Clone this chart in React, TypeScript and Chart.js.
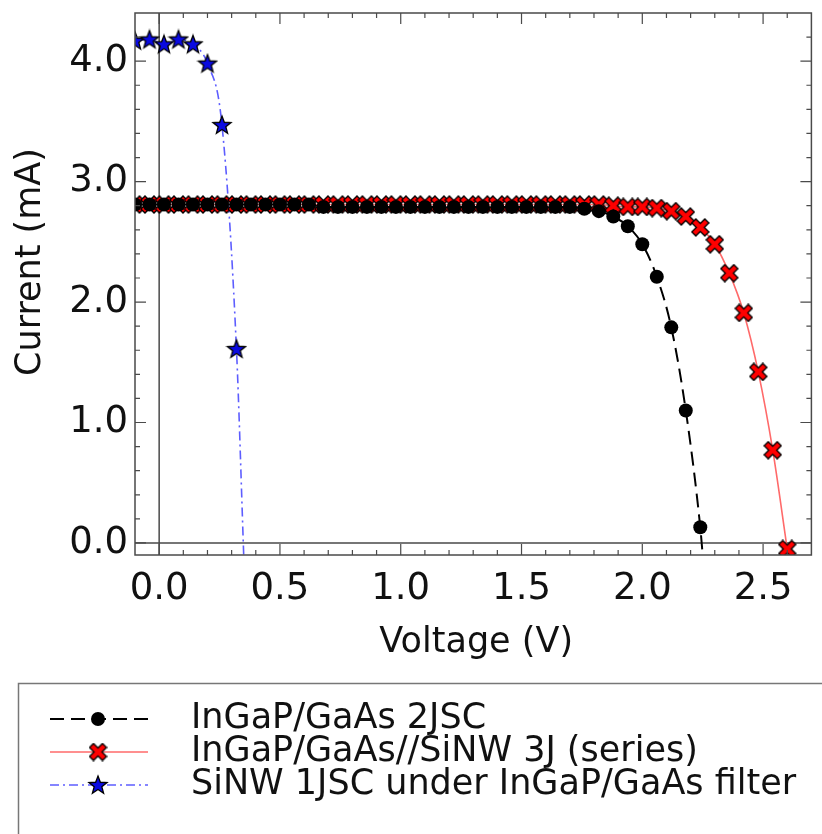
import React, { useEffect, useRef } from "react";
import { Chart, registerables } from "chart.js";

Chart.register(...registerables);

// Shared voltage grid (V)
const voltage = [
  -0.10, -0.04, 0.02, 0.08, 0.14, 0.20, 0.26, 0.32, 0.38, 0.44, 0.50, 0.56, 0.62,
  0.68, 0.74, 0.80, 0.86, 0.92, 0.98, 1.04, 1.10, 1.16, 1.22, 1.28, 1.34, 1.40,
  1.46, 1.52, 1.58, 1.64, 1.70, 1.76, 1.82, 1.88, 1.94, 2.00, 2.06, 2.12, 2.18,
  2.24, 2.30, 2.36, 2.42, 2.48, 2.54, 2.60,
];

// InGaP/GaAs 2JSC current (mA)
const current2J = [
  2.81, 2.81, 2.81, 2.81, 2.81, 2.81, 2.81, 2.81, 2.81, 2.81, 2.81, 2.81, 2.81,
  2.79, 2.79, 2.79, 2.79, 2.79, 2.79, 2.79, 2.79, 2.79, 2.79, 2.79, 2.79, 2.79,
  2.79, 2.79, 2.79, 2.79, 2.79, 2.775, 2.755, 2.71, 2.63, 2.48, 2.21, 1.79, 1.10,
  0.13,
];
const tail2JVoltage = [2.25];
const tail2JCurrent = [-0.1];

// InGaP/GaAs//SiNW 3J (series) current (mA)
const current3J = [
  2.81, 2.81, 2.81, 2.81, 2.81, 2.81, 2.81, 2.81, 2.81, 2.81, 2.81, 2.81, 2.81,
  2.81, 2.81, 2.81, 2.81, 2.81, 2.81, 2.81, 2.81, 2.81, 2.81, 2.81, 2.81, 2.81,
  2.81, 2.81, 2.81, 2.81, 2.81, 2.81, 2.81, 2.80, 2.79, 2.79, 2.78, 2.755, 2.71,
  2.62, 2.48, 2.24, 1.91, 1.42, 0.77, -0.05,
];

// SiNW 1JSC under InGaP/GaAs filter current (mA)
const currentSi = [4.17, 4.18, 4.14, 4.18, 4.14, 3.98, 3.47, 1.61];
const tailSiVoltage = [0.35];
const tailSiCurrent = [-0.1];

const xTickValues = [0, 0.5, 1.0, 1.5, 2.0, 2.5];
const yTickValues = [0, 1.0, 2.0, 3.0, 4.0];

const seriesLabels = [
  "InGaP/GaAs 2JSC",
  "InGaP/GaAs//SiNW 3J (series)",
  "SiNW 1JSC under InGaP/GaAs filter",
];

const FONT = "'DejaVu Sans', sans-serif";
const FRAME = "#4a4a4a";
const TEXT = "#111111";
const RED_LINE = "#ff6a6a";
const BLUE_LINE = "#5d5dff";
const BLACK_DASH = [14, 7];
const BLUE_DASH = [9, 4, 2, 4];

function makeCross(): HTMLCanvasElement {
  const c = document.createElement("canvas");
  c.width = 19;
  c.height = 19;
  const g = c.getContext("2d")!;
  const draw = (w: number, col: string) => {
    g.strokeStyle = col;
    g.lineWidth = w;
    g.lineCap = "square";
    g.beginPath();
    g.moveTo(5, 5);
    g.lineTo(14, 14);
    g.moveTo(14, 5);
    g.lineTo(5, 14);
    g.stroke();
  };
  draw(7, "#000");
  draw(4.4, "#ff0000");
  return c;
}

function makeStar(): HTMLCanvasElement {
  const c = document.createElement("canvas");
  c.width = 22;
  c.height = 22;
  const g = c.getContext("2d")!;
  const cx = 11, cy = 11.5, ro = 9.5, ri = 4;
  g.beginPath();
  for (let i = 0; i < 10; i++) {
    const r = i % 2 === 0 ? ro : ri;
    const a = -Math.PI / 2 + (i * Math.PI) / 5;
    const px = cx + r * Math.cos(a);
    const py = cy + r * Math.sin(a);
    if (i === 0) g.moveTo(px, py);
    else g.lineTo(px, py);
  }
  g.closePath();
  g.fillStyle = "#0a0ae0";
  g.fill();
  g.strokeStyle = "#000";
  g.lineWidth = 1.3;
  g.stroke();
  return c;
}

export default function App() {
  const ref = useRef<HTMLCanvasElement | null>(null);

  useEffect(() => {
    if (!ref.current) return;
    const cross = makeCross();
    const star = makeStar();

    const pts2J = current2J
      .map((c, i) => ({ x: voltage[i], y: c, tail: false }))
      .concat(tail2JVoltage.map((v, i) => ({ x: v, y: tail2JCurrent[i], tail: true })));
    const pts3J = current3J.map((c, i) => ({ x: voltage[i], y: c, tail: false }));
    const ptsSi = currentSi
      .map((c, i) => ({ x: voltage[i], y: c, tail: false }))
      .concat(tailSiVoltage.map((v, i) => ({ x: v, y: tailSiCurrent[i], tail: true })));

    const radius = (r: number) => (ctx: any) => (ctx.raw && ctx.raw.tail ? 0 : r);

    const decor = {
      id: "ivDecor",
      beforeDatasetsDraw(chart: any) {
        const { ctx, chartArea: a, scales } = chart;
        const x0 = scales.x.getPixelForValue(0);
        const y0 = scales.y.getPixelForValue(0);
        ctx.save();
        ctx.strokeStyle = FRAME;
        ctx.lineWidth = 1.5;
        ctx.beginPath();
        ctx.moveTo(x0, a.top);
        ctx.lineTo(x0, a.bottom);
        ctx.moveTo(a.left, y0);
        ctx.lineTo(a.right, y0);
        ctx.stroke();
        ctx.restore();
      },
      afterDatasetsDraw(chart: any) {
        const { ctx, chartArea: a, scales } = chart;
        ctx.save();
        ctx.strokeStyle = FRAME;
        ctx.lineWidth = 1.5;
        ctx.strokeRect(a.left, a.top, a.right - a.left, a.bottom - a.top);
        ctx.lineWidth = 1.2;
        ctx.beginPath();
        for (let i = -1; i <= 27; i++) {
          const px = scales.x.getPixelForValue(i / 10);
          if (px <= a.left + 1 || px >= a.right - 1) continue;
          const len = i % 5 === 0 ? 11 : 5;
          ctx.moveTo(px, a.bottom);
          ctx.lineTo(px, a.bottom - len);
          ctx.moveTo(px, a.top);
          ctx.lineTo(px, a.top + len);
        }
        for (let j = 0; j <= 22; j++) {
          const py = scales.y.getPixelForValue(j * 0.2);
          if (py <= a.top + 1 || py >= a.bottom - 1) continue;
          const len = j % 5 === 0 ? 11 : 5;
          ctx.moveTo(a.left, py);
          ctx.lineTo(a.left + len, py);
          ctx.moveTo(a.right, py);
          ctx.lineTo(a.right - len, py);
        }
        ctx.stroke();
        ctx.restore();
      },
      afterDraw(chart: any) {
        const { ctx, chartArea: a } = chart;
        ctx.save();
        ctx.fillStyle = TEXT;
        ctx.font = `35px ${FONT}`;
        ctx.textAlign = "center";
        ctx.textBaseline = "middle";
        // x title
        ctx.fillText("Voltage (V)", (a.left + a.right) / 2 + 3, a.bottom + 88);
        // y title
        ctx.save();
        ctx.translate(31, (a.top + a.bottom) / 2 - 22);
        ctx.rotate(-Math.PI / 2);
        ctx.fillText("Current (mA)", 0, 0);
        ctx.restore();

        // legend box
        ctx.strokeStyle = "#777";
        ctx.lineWidth = 1.5;
        ctx.strokeRect(18.5, 683.5, 900, 300);

        const rows = [719, 752, 785];
        const sx0 = 50, sx1 = 148, sm = 98;
        ctx.font = `35px ${FONT}`;
        ctx.textAlign = "left";
        ctx.textBaseline = "middle";
        rows.forEach((ry, k) => {
          ctx.save();
          ctx.beginPath();
          if (k === 0) {
            ctx.strokeStyle = "#000";
            ctx.lineWidth = 2;
            ctx.setLineDash(BLACK_DASH);
          } else if (k === 1) {
            ctx.strokeStyle = RED_LINE;
            ctx.lineWidth = 1.6;
          } else {
            ctx.strokeStyle = BLUE_LINE;
            ctx.lineWidth = 1.6;
            ctx.setLineDash(BLUE_DASH);
          }
          ctx.moveTo(sx0, ry);
          ctx.lineTo(sx1, ry);
          ctx.stroke();
          ctx.setLineDash([]);
          if (k === 0) {
            ctx.fillStyle = "#000";
            ctx.beginPath();
            ctx.arc(sm, ry, 7, 0, Math.PI * 2);
            ctx.fill();
          } else if (k === 1) {
            ctx.drawImage(cross, sm - cross.width / 2, ry - cross.height / 2);
          } else {
            ctx.drawImage(star, sm - star.width / 2, ry - star.height / 2);
          }
          ctx.restore();
          ctx.fillStyle = TEXT;
          ctx.fillText(seriesLabels[k], 191, ry);
        });
        ctx.restore();
      },
    };

    const chart = new Chart(ref.current, {
      type: "line",
      data: {
        datasets: [
          {
            label: seriesLabels[0],
            data: pts2J,
            borderColor: "#000",
            borderWidth: 2,
            borderDash: BLACK_DASH,
            backgroundColor: "#000",
            pointBackgroundColor: "#000",
            pointBorderColor: "#000",
            pointRadius: radius(7),
            pointBorderWidth: 0,
            pointStyle: "circle",
            cubicInterpolationMode: "monotone",
            clip: 0,
          },
          {
            label: seriesLabels[1],
            data: pts3J,
            borderColor: RED_LINE,
            borderWidth: 1.6,
            pointStyle: cross as any,
            pointRadius: radius(8),
            cubicInterpolationMode: "monotone",
            clip: 0,
          },
          {
            label: seriesLabels[2],
            data: ptsSi,
            borderColor: BLUE_LINE,
            borderWidth: 1.6,
            borderDash: BLUE_DASH,
            pointStyle: star as any,
            pointRadius: radius(9),
            cubicInterpolationMode: "monotone",
            clip: 0,
          },
        ],
      },
      options: {
        animation: false,
        responsive: false,
        maintainAspectRatio: false,
        layout: { padding: { top: 13, right: 1, left: 0, bottom: 0 } },
        plugins: {
          legend: { display: false },
          tooltip: { enabled: false },
        },
        scales: {
          x: {
            type: "linear",
            min: -0.1,
            max: 2.7,
            grid: { display: false, drawTicks: false },
            border: { display: false },
            ticks: {
              font: { family: FONT, size: 37 },
              color: TEXT,
              padding: 12,
              maxRotation: 0,
              callback: (v: any) => Number(v).toFixed(1),
            },
            afterBuildTicks: (s: any) => {
              s.ticks = xTickValues.map((v) => ({ value: v }));
            },
            afterFit: (s: any) => {
              s.height = 279;
              s.paddingLeft = 0;
              s.paddingRight = 0;
            },
          },
          y: {
            type: "linear",
            min: -0.1,
            max: 4.4,
            grid: { display: false, drawTicks: false },
            border: { display: false },
            ticks: {
              font: { family: FONT, size: 37 },
              color: TEXT,
              padding: 7,
              callback: (v: any) => Number(v).toFixed(1),
            },
            afterBuildTicks: (s: any) => {
              s.ticks = yTickValues.map((v) => ({ value: v }));
            },
            afterFit: (s: any) => {
              s.width = 135;
              s.paddingTop = 0;
              s.paddingBottom = 0;
            },
          },
        },
      },
      plugins: [decor],
    });

    return () => chart.destroy();
  }, []);

  return (
    <div style={{ position: "absolute", left: 0, top: 0, width: 822, height: 834, background: "#fff" }}>
      <canvas ref={ref} width={822} height={834} style={{ display: "block", width: 822, height: 834 }} />
    </div>
  );
}
